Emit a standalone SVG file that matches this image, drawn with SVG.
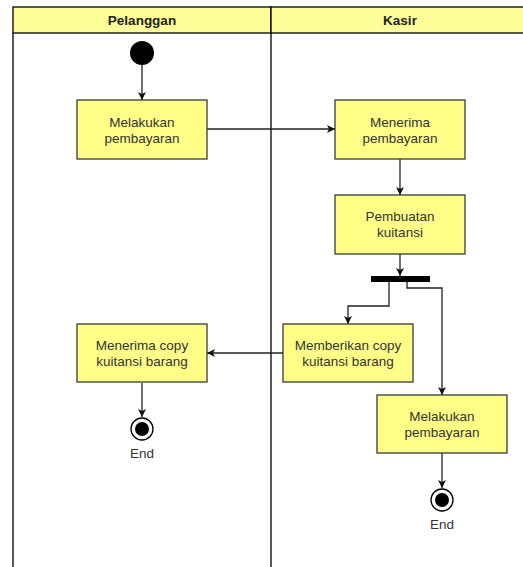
<svg xmlns="http://www.w3.org/2000/svg" width="523" height="567" viewBox="0 0 523 567">
<defs>
<style>
.lane{fill:none;stroke:#000;stroke-width:1.3}
.hdr{fill:#ffff99;stroke:#000;stroke-width:1.3}
.ht{font-family:"Liberation Sans",Arial,sans-serif;font-size:13.5px;font-weight:bold;fill:#222;text-anchor:middle}
.box{fill:#ffff88;stroke:#36393d;stroke-width:1.3}
.t{font-family:"Liberation Sans",Arial,sans-serif;font-size:13.5px;fill:#333;text-anchor:middle}
.c{fill:none;stroke:#222;stroke-width:1.3;marker-end:url(#ah)}
</style>
<marker id="ah" viewBox="0 0 10 10" refX="10" refY="5" markerWidth="8" markerHeight="8" markerUnits="userSpaceOnUse" orient="auto">
<path d="M0,0 L10,5 L0,10 L2.5,5 z" fill="#111"/>
</marker>
</defs>
<rect width="523" height="567" fill="#fff"/>
<g id="lanes">
<rect class="hdr" x="13" y="7" width="258" height="26"/>
<rect class="hdr" x="271" y="7" width="258" height="26"/>
<line class="lane" x1="13" y1="33" x2="13" y2="570"/>
<line class="lane" x1="271" y1="33" x2="271" y2="570"/>
<text class="ht" x="142" y="25">Pelanggan</text>
<text class="ht" x="400" y="25">Kasir</text>
</g>
<g id="connectors">
<path class="c" d="M142,65 L142,100"/>
<path class="c" d="M207,129 L335,129"/>
<path class="c" d="M400,159 L400,195"/>
<path class="c" d="M400,254 L400,276"/>
<path class="c" d="M389,282 L389,306 L348,306 L348,324"/>
<path class="c" d="M407,282 L407,288 L442,288 L442,395"/>
<path class="c" d="M283,353 L207,353"/>
<path class="c" d="M142,383 L142,417"/>
<path class="c" d="M442,453 L442,488"/>
</g>
<g id="start"><circle cx="142" cy="53" r="12" fill="#000"/></g>
<g id="n1"><rect class="box" x="77" y="100" width="130" height="59"/><text class="t" x="142" y="127">Melakukan</text><text class="t" x="142" y="143">pembayaran</text></g>
<g id="n2"><rect class="box" x="335" y="100" width="130" height="59"/><text class="t" x="400" y="127">Menerima</text><text class="t" x="400" y="143">pembayaran</text></g>
<g id="n3"><rect class="box" x="335" y="195" width="130" height="59"/><text class="t" x="400" y="221">Pembuatan</text><text class="t" x="400" y="237">kuitansi</text></g>
<g id="fork"><rect x="371" y="276" width="59" height="6" fill="#000"/></g>
<g id="n4"><rect class="box" x="283" y="324" width="130" height="58"/><text class="t" x="348" y="350">Memberikan copy</text><text class="t" x="348" y="366">kuitansi barang</text></g>
<g id="n5"><rect class="box" x="77" y="324" width="130" height="58"/><text class="t" x="142" y="350">Menerima copy</text><text class="t" x="142" y="366">kuitansi barang</text></g>
<g id="n6"><rect class="box" x="377" y="395" width="130" height="58"/><text class="t" x="442" y="421">Melakukan</text><text class="t" x="442" y="437">pembayaran</text></g>
<g id="end1"><circle cx="142" cy="429" r="11" fill="#fff" stroke="#000" stroke-width="1.3"/><circle cx="142" cy="429" r="7" fill="#000"/><text class="t" x="142" y="458">End</text></g>
<g id="end2"><circle cx="442" cy="500" r="11" fill="#fff" stroke="#000" stroke-width="1.3"/><circle cx="442" cy="500" r="7" fill="#000"/><text class="t" x="442" y="529">End</text></g>
</svg>
